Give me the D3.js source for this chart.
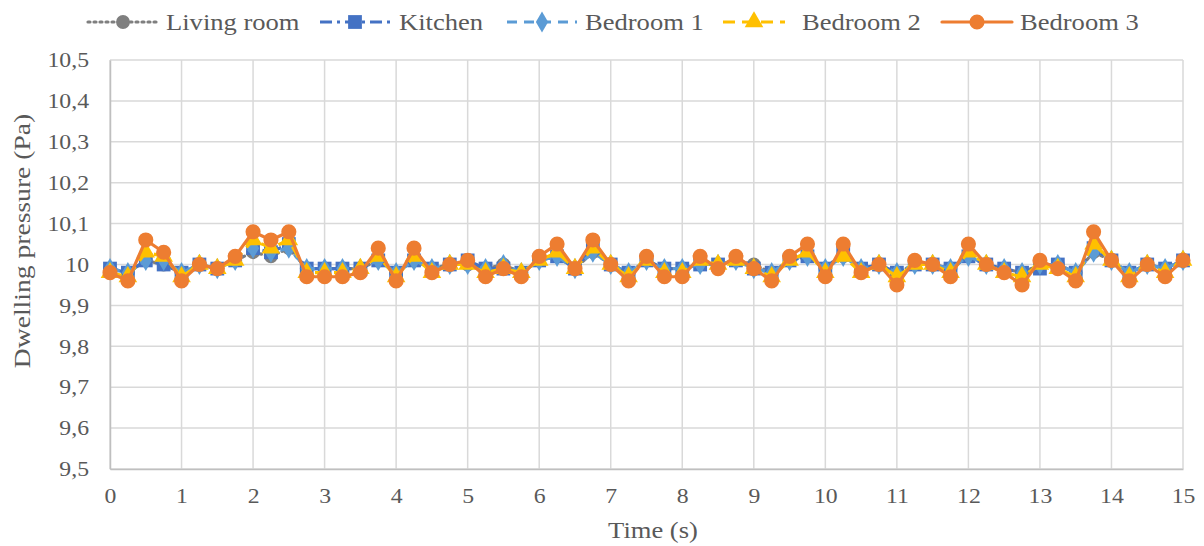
<!DOCTYPE html>
<html>
<head>
<meta charset="utf-8">
<script src="https://cdn.jsdelivr.net/npm/d3@7"></script>
<style>
  body { margin: 0; background: #fff; }
  text { font-family: "Liberation Serif", "Times New Roman", serif; fill: #595959; }
</style>
</head>
<body>
<svg id="myGraph" width="1204" height="546"></svg>
<script>
// data (time step 0.25 s)
var timeSec = [0,0.25,0.5,0.75,1,1.25,1.5,1.75,2,2.25,2.5,2.75,3,3.25,3.5,3.75,4,4.25,4.5,4.75,
  5,5.25,5.5,5.75,6,6.25,6.5,6.75,7,7.25,7.5,7.75,8,8.25,8.5,8.75,9,9.25,9.5,9.75,
  10,10.25,10.5,10.75,11,11.25,11.5,11.75,12,12.25,12.5,12.75,13,13.25,13.5,13.75,14,14.25,14.5,14.75,15];

var livingRoom = [9.99,9.98,10.01,10.00,9.98,10.00,9.99,10.01,10.03,10.02,10.04,9.99,9.99,9.99,9.99,10.01,
  9.98,10.01,9.99,10.00,10.00,9.99,10.00,9.98,10.01,10.02,9.99,10.03,10.00,9.98,10.01,9.99,
  9.99,10.00,10.00,10.01,10.00,9.98,10.01,10.02,9.99,10.02,9.99,10.00,9.98,10.00,10.00,9.99,
  10.02,10.00,9.99,9.98,10.00,10.00,9.98,10.03,10.01,9.98,10.00,9.99,10.01];
var kitchen = [9.99,9.98,10.01,10.00,9.98,10.00,9.99,10.01,10.04,10.03,10.05,9.99,9.99,9.99,9.99,10.01,
  9.98,10.01,9.99,10.00,10.01,9.99,9.99,9.98,10.01,10.02,9.99,10.04,10.00,9.98,10.01,9.99,
  9.99,10.00,10.00,10.01,9.99,9.98,10.01,10.02,9.99,10.03,9.99,10.00,9.98,10.00,10.00,9.99,
  10.02,10.00,9.99,9.98,9.99,10.00,9.98,10.04,10.01,9.98,10.00,9.99,10.01];
var bedroom1 = [9.99,9.98,10.01,10.01,9.98,10.00,9.99,10.01,10.04,10.03,10.04,9.99,9.99,9.99,9.99,10.01,
  9.98,10.01,9.99,10.00,10.00,9.99,10.00,9.98,10.01,10.02,9.99,10.03,10.00,9.98,10.01,9.99,
  9.99,10.00,10.00,10.01,9.99,9.98,10.01,10.02,9.99,10.02,9.99,10.00,9.98,10.00,10.00,9.99,
  10.02,10.00,9.99,9.98,10.00,10.00,9.98,10.03,10.01,9.98,10.00,9.99,10.01];
var bedroom2 = [9.98,9.97,10.03,10.02,9.97,10.00,9.99,10.01,10.06,10.04,10.06,9.98,9.98,9.98,9.99,10.02,
  9.97,10.02,9.98,10.00,10.00,9.98,9.99,9.98,10.01,10.03,9.99,10.04,10.00,9.97,10.01,9.98,
  9.98,10.01,10.00,10.01,9.99,9.97,10.01,10.03,9.98,10.02,9.98,10.00,9.97,10.00,10.00,9.98,
  10.03,10.00,9.98,9.97,10.00,9.99,9.97,10.05,10.01,9.97,10.00,9.98,10.01];
var bedroom3 = [9.98,9.96,10.06,10.03,9.96,10.00,9.99,10.02,10.08,10.06,10.08,9.97,9.97,9.97,9.98,10.04,
  9.96,10.04,9.98,10.00,10.01,9.97,9.99,9.97,10.02,10.05,9.99,10.06,10.00,9.96,10.02,9.97,
  9.97,10.02,9.99,10.02,9.99,9.96,10.02,10.05,9.97,10.05,9.98,10.00,9.95,10.01,10.00,9.97,
  10.05,10.00,9.98,9.95,10.01,9.99,9.96,10.08,10.01,9.96,10.00,9.97,10.01];

var seriesNames = ["Living room", "Kitchen", "Bedroom 1", "Bedroom 2", "Bedroom 3"];
var xTicks = [0,1,2,3,4,5,6,7,8,9,10,11,12,13,14,15];
var yTicks = [9.5,9.6,9.7,9.8,9.9,10,10.1,10.2,10.3,10.4,10.5];

var series = [
  { name: seriesNames[0], values: livingRoom, color: "#7f7f7f", dash: "2,4", cap: "round", sym: d3.symbolCircle, size: 150 },
  { name: seriesNames[1], values: kitchen,    color: "#4472c4", dash: "12,5,3,5", cap: "butt", sym: d3.symbolSquare, size: 190 },
  { name: seriesNames[2], values: bedroom1,   color: "#5b9bd5", dash: "10,7", cap: "butt", sym: d3.symbolDiamond, size: 130 },
  { name: seriesNames[3], values: bedroom2,   color: "#ffc000", dash: "12,7", cap: "butt", sym: d3.symbolTriangle, size: 150 },
  { name: seriesNames[4], values: bedroom3,   color: "#ed7d31", dash: null, cap: "round", sym: d3.symbolCircle, size: 180 }
];

var svg = d3.select("#myGraph");
var plotLeft = 110, plotRight = 1183, plotTop = 60, plotBottom = 469;

// widen each text along its own direction (text in the picture is drawn wide)
function widen(sel, f) {
  sel.each(function(){
    var len = this.getComputedTextLength();
    d3.select(this).attr("textLength", len * f).attr("lengthAdjust", "spacingAndGlyphs");
  });
}

var x = d3.scaleLinear().domain([0, 15]).range([plotLeft, plotRight]);
var y = d3.scaleLinear().domain([9.5, 10.5]).range([plotBottom, plotTop]);

// grid
svg.append("g").selectAll("line").data(yTicks).enter().append("line")
  .attr("x1", plotLeft).attr("x2", plotRight)
  .attr("y1", function(d){ return y(d); }).attr("y2", function(d){ return y(d); })
  .attr("stroke", "#d9d9d9").attr("stroke-width", 1.5);
svg.append("g").selectAll("line").data(xTicks).enter().append("line")
  .attr("x1", function(d){ return x(d); }).attr("x2", function(d){ return x(d); })
  .attr("y1", plotTop).attr("y2", plotBottom)
  .attr("stroke", "#d9d9d9").attr("stroke-width", 1.5);

// axes
var yAxis = svg.append("g").attr("transform", "translate(" + plotLeft + ",0)")
  .call(d3.axisLeft(y).tickValues(yTicks).tickSize(0).tickPadding(21)
    .tickFormat(function(d){ return String(+d.toFixed(1)).replace(".", ","); }));
var xAxis = svg.append("g").attr("transform", "translate(0," + plotBottom + ")")
  .call(d3.axisBottom(x).tickValues(xTicks).tickSize(0).tickPadding(19));
[xAxis, yAxis].forEach(function(a){
  a.select(".domain").attr("stroke", "#bfbfbf").attr("stroke-width", 1.5);
  a.selectAll("text").style("font-family", "Liberation Serif").style("font-size", "21px").attr("fill", "#595959");
  widen(a.selectAll("text"), 1.13);
});

// axis titles
widen(svg.append("text").attr("x", 653).attr("y", 538)
  .attr("text-anchor", "middle").style("font-size", "23.5px").text("Time (s)"), 1.13);
widen(svg.append("text").attr("transform", "translate(30,241) rotate(-90)")
  .attr("text-anchor", "middle").style("font-size", "24px").text("Dwelling pressure (Pa)"), 1.15);

// lines + markers
var line = d3.line().x(function(d, i){ return x(timeSec[i]); }).y(function(d){ return y(d); });
series.forEach(function(s){
  var g = svg.append("g");
  g.append("path").datum(s.values)
    .attr("d", line).attr("fill", "none")
    .attr("stroke", s.color).attr("stroke-width", 3.2)
    .attr("stroke-dasharray", s.dash).attr("stroke-linecap", s.cap).attr("stroke-linejoin", "round");
  g.selectAll("path.m").data(s.values).enter().append("path")
    .attr("class", "m")
    .attr("d", d3.symbol().type(s.sym).size(s.size))
    .attr("transform", function(d, i){ return "translate(" + x(timeSec[i]) + "," + y(d) + ")"; })
    .attr("fill", s.color);
});

// legend
var legendPos = [
  { lx: 88, tx: 166 }, { lx: 320, tx: 399 }, { lx: 507, tx: 585 }, { lx: 723, tx: 802 }, { lx: 942, tx: 1020 }
];
series.forEach(function(s, i){
  var p = legendPos[i];
  var lg = svg.append("g");
  lg.append("line").attr("x1", p.lx).attr("x2", p.lx + (i === 3 ? 62 : 70)).attr("y1", 22).attr("y2", 22)
    .attr("stroke", s.color).attr("stroke-width", 3.2)
    .attr("stroke-dasharray", s.dash).attr("stroke-linecap", s.cap);
  lg.append("path").attr("d", d3.symbol().type(s.sym).size(s.size))
    .attr("transform", "translate(" + (p.lx + (i === 3 ? 31 : 35)) + ",22)").attr("fill", s.color);
  widen(lg.append("text").attr("x", p.tx).attr("y", 30).style("font-size", "23.5px").text(s.name), 1.13);
});
</script>
</body>
</html>
